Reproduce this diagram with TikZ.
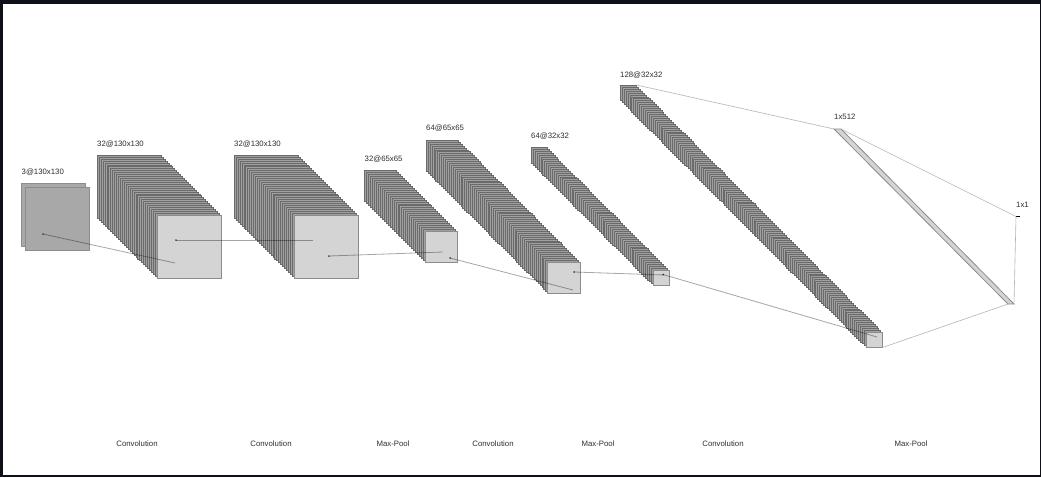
\documentclass[tikz,border=0pt]{standalone}
\usepackage{fontspec}
\setmainfont{Liberation Sans}
\usepackage{xcolor}
\usetikzlibrary{positioning}
\definecolor{cnnframe}{HTML}{0D1117}
\definecolor{cnnink}{HTML}{2E2E2E}
\definecolor{cnnedge}{HTML}{6A6A6A}
\definecolor{cnnlayer}{HTML}{A0A0A0}
\definecolor{cnninput}{HTML}{A8A8A8}
\definecolor{cnnfront}{HTML}{D4D4D4}
\definecolor{cnnwire}{HTML}{8C8C8C}
\definecolor{cnnthin}{HTML}{B4B4B4}
% name, back x, back y, front x, front y, width, height, steps
\newcommand{\featstack}[8]{
  \foreach \i in {0,...,#8}{
    \pgfmathsetmacro{\px}{#2+(#4-#2)/#8*\i}
    \pgfmathsetmacro{\py}{#3+(#5-#3)/#8*\i}
    \node[layerbox, minimum width=#6pt, minimum height=#7pt] (#1-\i) at (\px,\py) {};
  }
  \node[frontbox, minimum width=#6pt, minimum height=#7pt] (#1-front) at (#4,#5) {};
}
\begin{document}
\begin{tikzpicture}[
  x=1pt, y=-1pt,
  font=\fontsize{7.8}{9}\selectfont,
  layerbox/.style={draw=cnnedge, line width=0.3pt, fill=cnnlayer, inner sep=0pt,
    outer sep=0pt, anchor=north west},
  frontbox/.style={layerbox, draw=cnnwire, line width=0.8pt, fill=cnnfront},
  lab/.style={text=cnnink, inner sep=0pt},
  oplab/.style={text=cnnink, inner sep=0pt, anchor=center},
  wire/.style={draw=cnnthin, line width=0.6pt},
  flow/.style={draw=black, line width=0.8pt, opacity=0.35},
  tap/.style={circle, fill=black!70, inner sep=0pt, minimum size=2pt},
  ]
  \useasboundingbox (0,0) rectangle (1041,477);
  \fill[cnnframe] (0,0) rectangle (1041,477);
  \fill[white] (3,4) rectangle (1040,475);

  % The input.
  \node[layerbox, draw=cnnwire, line width=0.7pt, fill=cnninput, minimum width=64pt, minimum height=63pt] (inb) at (21.5,183) {};
  \node[layerbox, draw=cnnwire, line width=0.7pt, fill=cnninput, minimum width=64pt, minimum height=63pt] (inf) at (25,187.5) {};

  % The feature maps.
  \featstack{cva}{97}{155}{157}{215}{64}{63}{31}
  \featstack{cvb}{234}{155}{294}{215}{64}{63}{31}
  \featstack{mpa}{364.5}{170.5}{425}{231}{32}{31}{31}
  \featstack{cvc}{426}{140}{547.5}{262}{32.5}{31}{63}
  \featstack{mpb}{531}{147.5}{653}{270}{16}{15.5}{63}
  \featstack{cvd}{620}{85}{866}{332}{16.5}{15.5}{127}

  % The flow through them.
  \node[tap] (inout) at (43,234) {};
  \node[tap] (cvaout) at (176,240) {};
  \node[tap] (cvbout) at (329,256) {};
  \node[tap] (mpaout) at (450,258) {};
  \node[tap] (cvcout) at (574,272) {};
  \node[tap] (mpbout) at (663,274.5) {};
  \coordinate (cvain) at (175,263);
  \coordinate (cvbin) at (313,240);
  \coordinate (mpain) at (443,252);
  \coordinate (cvcin) at (573,290);
  \coordinate (mpbin) at (664,275);
  \coordinate (cvdin) at (877,337);
  \draw[flow] (inout.center) -- (cvain);
  \draw[flow] (cvaout.center) -- (cvbin);
  \draw[flow] (cvbout.center) -- (mpain);
  \draw[flow] (mpaout.center) -- (cvcin);
  \draw[flow] (cvcout.center) -- (mpbin);
  \draw[flow] (mpbout.center) -- (cvdin);

  % The dense layers.
  \coordinate (fctl) at (834,129);
  \coordinate (fctr) at (841,129);
  \coordinate (fcbl) at (1008,304);
  \coordinate (fcbr) at (1014,304);
  \draw[cnnwire, line width=0.8pt, fill=cnnfront] (fctl) -- (fctr) -- (fcbr) -- (fcbl) -- cycle;
  \coordinate (tipa) at (1016,216.5);
  \coordinate (tipb) at (1020,216.5);
  \draw[black, line width=0.7pt] (tipa) -- (tipb);

  % Wires to the dense layers.
  \draw[wire] (cvd-0.north east) -- (fctl);
  \draw[wire] (cvd-front.south east) -- (fcbl);
  \draw[wire] (fctr) -- (tipa);
  \draw[wire] (fcbr) -- (tipa);

  % Sizes.
  \node[lab, above right=7.5pt and 0pt of inb.north west] (szin) {3@130x130};
  \node[lab, above right=7.5pt and 0pt of cva-0.north west] (szcva) {32@130x130};
  \node[lab, above right=7.5pt and 0pt of cvb-0.north west] (szcvb) {32@130x130};
  \node[lab, above right=7.5pt and 0pt of mpa-0.north west] (szmpa) {32@65x65};
  \node[lab, above right=8.5pt and 0pt of cvc-0.north west] (szcvc) {64@65x65};
  \node[lab, above right=7.5pt and 0pt of mpb-0.north west] (szmpb) {64@32x32};
  \node[lab, above right=6.5pt and 0pt of cvd-0.north west] (szcvd) {128@32x32};
  \node[lab, above right=9.5pt and 0pt of fctl] (szfca) {1x512};
  \node[lab, above=8.5pt of tipa, anchor=south west] (szfcb) {1x1};

  % Operations.
  \node[oplab] (opa) at (137,444) {Convolution};
  \node[oplab] (opb) at (271,444) {Convolution};
  \node[oplab] (opc) at (393,444) {Max-Pool};
  \node[oplab] (opd) at (493,444) {Convolution};
  \node[oplab] (ope) at (598,444) {Max-Pool};
  \node[oplab] (opf) at (723,444) {Convolution};
  \node[oplab] (opg) at (911,444) {Max-Pool};
\end{tikzpicture}
\end{document}
